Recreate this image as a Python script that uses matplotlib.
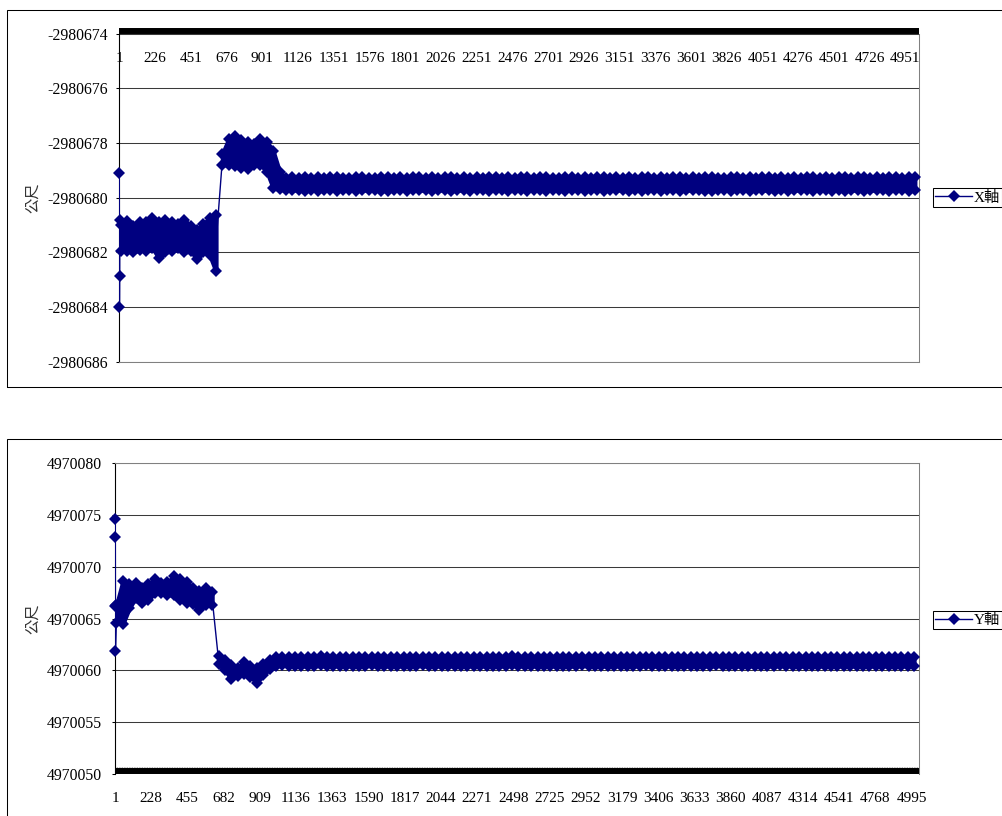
import matplotlib
matplotlib.use("Agg")
import numpy as np
import matplotlib.pyplot as plt
from matplotlib.patches import Rectangle
from matplotlib.lines import Line2D

# Fuentes: números en serif, texto chino con Noto CJK
plt.rcParams['font.family'] = ['Liberation Serif', 'Noto Sans CJK TC']

NAVY = '#000080'
MS = 5.8  # tamaño del rombo

# Índices de muestreo (uno cada 40 registros)
idx_band = list(range(10, 5011, 40))

# Primeros registros (saltos grandes al inicio)
idx_head = [1, 2, 3, 4]
x_head = [-2980679.1, -2980684.0, -2980682.88, -2980680.8]
y_head = [4970066.2, 4970074.65, 4970072.9, 4970061.9]

# X軸: bordes superior / inferior de la nube de puntos, respecto a -2980680
X_BASE = -2980680
x_hi = [-1.0, -0.85, -1.05, -0.9, -0.9, -0.75, -0.9, -0.8, -0.9, -0.95,
        -0.8, -1.05, -1.2, -0.95, -0.75, -0.65,
        1.6, 2.15, 2.25, 2.1, 2.05, 1.95, 2.15, 2.05, 1.7, 0.95, 0.72,
        0.74, 0.72, 0.75, 0.73, 0.76, 0.72, 0.74, 0.75, 0.73, 0.71,
        0.74, 0.76, 0.73, 0.72, 0.75, 0.74, 0.72, 0.76, 0.73, 0.74,
        0.75, 0.72, 0.74, 0.73, 0.76, 0.74, 0.72, 0.75, 0.73, 0.74,
        0.72, 0.75, 0.74, 0.73, 0.76, 0.72, 0.74, 0.75, 0.73, 0.74,
        0.76, 0.73, 0.72, 0.75, 0.74, 0.73, 0.75, 0.72, 0.74, 0.76,
        0.73, 0.74, 0.72, 0.75, 0.73, 0.74, 0.76, 0.72, 0.74, 0.73,
        0.75, 0.74, 0.72, 0.76, 0.73, 0.74, 0.75, 0.72, 0.73, 0.74,
        0.76, 0.73, 0.74, 0.72, 0.75, 0.74, 0.73, 0.75, 0.72, 0.74,
        0.73, 0.76, 0.74, 0.72, 0.75, 0.73, 0.74, 0.76, 0.72, 0.74,
        0.75, 0.73, 0.74, 0.72, 0.76, 0.74, 0.73, 0.75, 0.74]
x_lo = [-1.95, -1.95, -2.0, -1.9, -1.95, -1.85, -2.2, -2.0, -1.95, -1.85,
        -2.0, -1.95, -2.25, -2.0, -2.1, -2.7,
        1.2, 1.2, 1.15, 1.1, 1.05, 1.2, 1.2, 0.95, 0.35, 0.3, 0.28,
        0.27, 0.29, 0.26, 0.28, 0.25, 0.27, 0.29, 0.26, 0.28, 0.27,
        0.26, 0.28, 0.27, 0.29, 0.26, 0.25, 0.28, 0.27, 0.26, 0.29,
        0.27, 0.28, 0.26, 0.27, 0.29, 0.25, 0.27, 0.28, 0.26, 0.27,
        0.29, 0.26, 0.27, 0.28, 0.25, 0.27, 0.29, 0.26, 0.28, 0.27,
        0.26, 0.28, 0.27, 0.25, 0.29, 0.27, 0.26, 0.28, 0.27, 0.26,
        0.28, 0.27, 0.29, 0.26, 0.27, 0.25, 0.28, 0.27, 0.26, 0.29,
        0.27, 0.26, 0.28, 0.27, 0.29, 0.26, 0.25, 0.28, 0.27, 0.26,
        0.28, 0.27, 0.26, 0.29, 0.27, 0.28, 0.25, 0.27, 0.26, 0.28,
        0.27, 0.29, 0.26, 0.27, 0.28, 0.26, 0.27, 0.25, 0.28, 0.27,
        0.26, 0.28, 0.27, 0.29, 0.26, 0.27, 0.28, 0.26, 0.27]

# Y軸: bordes respecto a 4970060
Y_BASE = 4970060
y_hi = [6.3, 8.6, 8.3, 8.45, 8.0, 8.3, 8.85, 8.45, 8.5, 9.1,
        8.8, 8.5, 8.0, 7.7, 8.0, 7.6,
        1.4, 1.0, 0.55, 0.2, 0.8, 0.4, 0.25, 0.65, 1.0, 1.3, 1.3,
        1.30, 1.28, 1.33, 1.27, 1.31, 1.35, 1.29, 1.30, 1.26, 1.32,
        1.29, 1.34, 1.28, 1.31, 1.27, 1.30, 1.33, 1.29, 1.31, 1.28,
        1.32, 1.30, 1.27, 1.34, 1.29, 1.31, 1.28, 1.30, 1.33, 1.29,
        1.31, 1.27, 1.30, 1.32, 1.28, 1.35, 1.29, 1.31, 1.30, 1.28,
        1.33, 1.29, 1.31, 1.27, 1.30, 1.32, 1.29, 1.34, 1.28, 1.30,
        1.31, 1.28, 1.32, 1.30, 1.27, 1.33, 1.29, 1.31, 1.30, 1.28,
        1.34, 1.29, 1.31, 1.27, 1.30, 1.32, 1.28, 1.30, 1.33, 1.29,
        1.31, 1.28, 1.30, 1.34, 1.27, 1.31, 1.29, 1.32, 1.30, 1.28,
        1.33, 1.30, 1.29, 1.31, 1.27, 1.32, 1.30, 1.28, 1.34, 1.29,
        1.31, 1.30, 1.28, 1.32, 1.29, 1.33, 1.30, 1.31, 1.29]
y_lo = [4.6, 4.5, 6.0, 7.0, 6.5, 6.8, 7.5, 7.5, 7.3, 7.3,
        6.8, 6.5, 6.4, 5.8, 6.3, 6.3,
        0.6, 0.0, -0.8, -0.5, -0.3, -0.6, -1.2, -0.4, 0.1, 0.45, 0.5,
        0.45, 0.47, 0.43, 0.46, 0.44, 0.48, 0.42, 0.45, 0.47, 0.44,
        0.46, 0.43, 0.45, 0.48, 0.44, 0.46, 0.42, 0.45, 0.47, 0.44,
        0.45, 0.48, 0.43, 0.46, 0.44, 0.45, 0.47, 0.42, 0.46, 0.45,
        0.44, 0.47, 0.45, 0.43, 0.46, 0.48, 0.44, 0.45, 0.46, 0.43,
        0.47, 0.45, 0.44, 0.46, 0.42, 0.45, 0.48, 0.44, 0.46, 0.45,
        0.43, 0.47, 0.45, 0.44, 0.46, 0.45, 0.48, 0.43, 0.45, 0.46,
        0.44, 0.47, 0.45, 0.42, 0.46, 0.44, 0.45, 0.48, 0.43, 0.46,
        0.45, 0.44, 0.47, 0.45, 0.43, 0.46, 0.44, 0.48, 0.45, 0.46,
        0.43, 0.45, 0.47, 0.44, 0.46, 0.45, 0.42, 0.47, 0.45, 0.44,
        0.46, 0.45, 0.43, 0.47, 0.44, 0.46, 0.45, 0.44, 0.46]

# Etiquetas del eje de categorías
x_cats = [1, 226, 451, 676, 901, 1126, 1351, 1576, 1801, 2026, 2251, 2476,
          2701, 2926, 3151, 3376, 3601, 3826, 4051, 4276, 4501, 4726, 4951]
y_cats = [1, 228, 455, 682, 909, 1136, 1363, 1590, 1817, 2044, 2271, 2498,
          2725, 2952, 3179, 3406, 3633, 3860, 4087, 4314, 4541, 4768, 4995]
x_ticks = [-2980686, -2980684, -2980682, -2980680, -2980678, -2980676, -2980674]
y_ticks = [4970050, 4970055, 4970060, 4970065, 4970070, 4970075, 4970080]

W, H = 1003, 816
fig = plt.figure(figsize=(W / 100, H / 100), dpi=100)


def px_axes(left, top, right, bottom):
    return fig.add_axes([left / W, 1 - bottom / H, (right - left) / W, (bottom - top) / H])


def draw_series(ax, base, hi_off, lo_off, head, brk):
    pos = np.array(idx_band)
    hi = base + np.array(hi_off)
    lo = base + np.array(lo_off)
    mid = (hi + lo) / 2
    # línea de la serie
    ax.plot(idx_head + idx_band, head + list(mid), color=NAVY, lw=1.0, zorder=3)
    # nube de puntos densa
    for a, b in [(0, brk), (brk, len(pos))]:
        ax.fill_between(pos[a:b], lo[a:b], hi[a:b], color=NAVY, lw=3.0,
                        joinstyle='round', zorder=3)
    for arr in (hi, lo):
        ax.plot(pos, arr, ls='none', marker='D', ms=MS, color=NAVY, mew=0,
                zorder=4, clip_on=False)
    ax.plot(idx_head, head, ls='none', marker='D', ms=MS, color=NAVY, mew=0,
            zorder=4, clip_on=False)


def style_axes(ax, ticks, ypad):
    ax.set_yticks(ticks)
    ax.set_yticklabels([str(t) for t in ticks])
    ax.set_ylim(ticks[0], ticks[-1])
    ax.yaxis.grid(True, color='#3a3a3a', lw=0.75)
    ax.set_axisbelow(True)
    ax.tick_params(axis='y', direction='out', length=2.2, width=0.75,
                   color='black', labelsize=11.3, pad=ypad)
    ax.spines['left'].set_color('black')
    ax.spines['left'].set_linewidth(0.8)
    for s in ('right', 'top', 'bottom'):
        ax.spines[s].set_color('#808080')
        ax.spines[s].set_linewidth(0.75)


# ---- Gráfico superior (X軸) ----
ax1 = px_axes(119.3, 33.6, 919, 361.7)
draw_series(ax1, X_BASE, x_hi, x_lo, x_head, 16)
style_axes(ax1, x_ticks, 6)
ax1.set_xlim(1, 5036)
ax1.set_xticks(x_cats)
ax1.set_xticklabels([str(c) for c in x_cats])
ax1.tick_params(axis='x', length=0, top=False, bottom=False,
                labeltop=True, labelbottom=False, labelsize=11, pad=-22.3)
ax1.spines['top'].set_visible(False)
ax1.plot([0, 1], [1.0079, 1.0079], transform=ax1.transAxes, color='black',
         lw=4.3, solid_capstyle='butt', clip_on=False, zorder=5)

# ---- Gráfico inferior (Y軸) ----
ax2 = px_axes(115, 463.3, 919, 774)
draw_series(ax2, Y_BASE, y_hi, y_lo, y_head, 16)
style_axes(ax2, y_ticks, 7.2)
ax2.set_xlim(1, 5041)
ax2.set_xticks(y_cats)
ax2.set_xticklabels([str(c) for c in y_cats])
ax2.tick_params(axis='x', length=0, labelsize=11, pad=12.8)
ax2.spines['bottom'].set_visible(False)
ax2.plot([0, 1], [0.0235, 0.0235], transform=ax2.transAxes, color='#999999',
         lw=0.6, ls=(0, (1, 1)), zorder=2)
ax2.plot([0, 1], [0.0097, 0.0097], transform=ax2.transAxes, color='black',
         lw=4.3, solid_capstyle='butt', clip_on=False, zorder=5)

# Títulos del eje vertical
for yc in (198, 619):
    fig.text(33 / W, 1 - yc / H, '公尺', rotation=90, ha='center', va='center',
             fontsize=11, family=['Noto Sans CJK TC'], color='#333333')

# Leyendas
for ax, name, yc in ((ax1, 'X軸', 197.5), (ax2, 'Y軸', 620)):
    h = Line2D([], [], color=NAVY, lw=1.0, marker='D', ms=MS, mew=0)
    leg = ax.legend([h], [name], loc='center left',
                    bbox_to_anchor=(933 / W, 1 - yc / H), bbox_transform=fig.transFigure,
                    frameon=True, fancybox=False, edgecolor='black', framealpha=1,
                    fontsize=11, handlelength=2.4, handletextpad=0.1,
                    borderpad=0.15, borderaxespad=0)
    leg.get_frame().set_linewidth(0.75)

# Marcos del área de cada gráfico
fig.add_artist(Rectangle((7.5 / W, 1 - 386.5 / H), 1.1, 377 / H,
                         transform=fig.transFigure, fill=False, ec='black', lw=0.75))
fig.add_artist(Rectangle((7.5 / W, -0.1), 1.1, 0.1 + (1 - 439 / H),
                         transform=fig.transFigure, fill=False, ec='black', lw=0.75))

fig.savefig('out.png', dpi=100)
